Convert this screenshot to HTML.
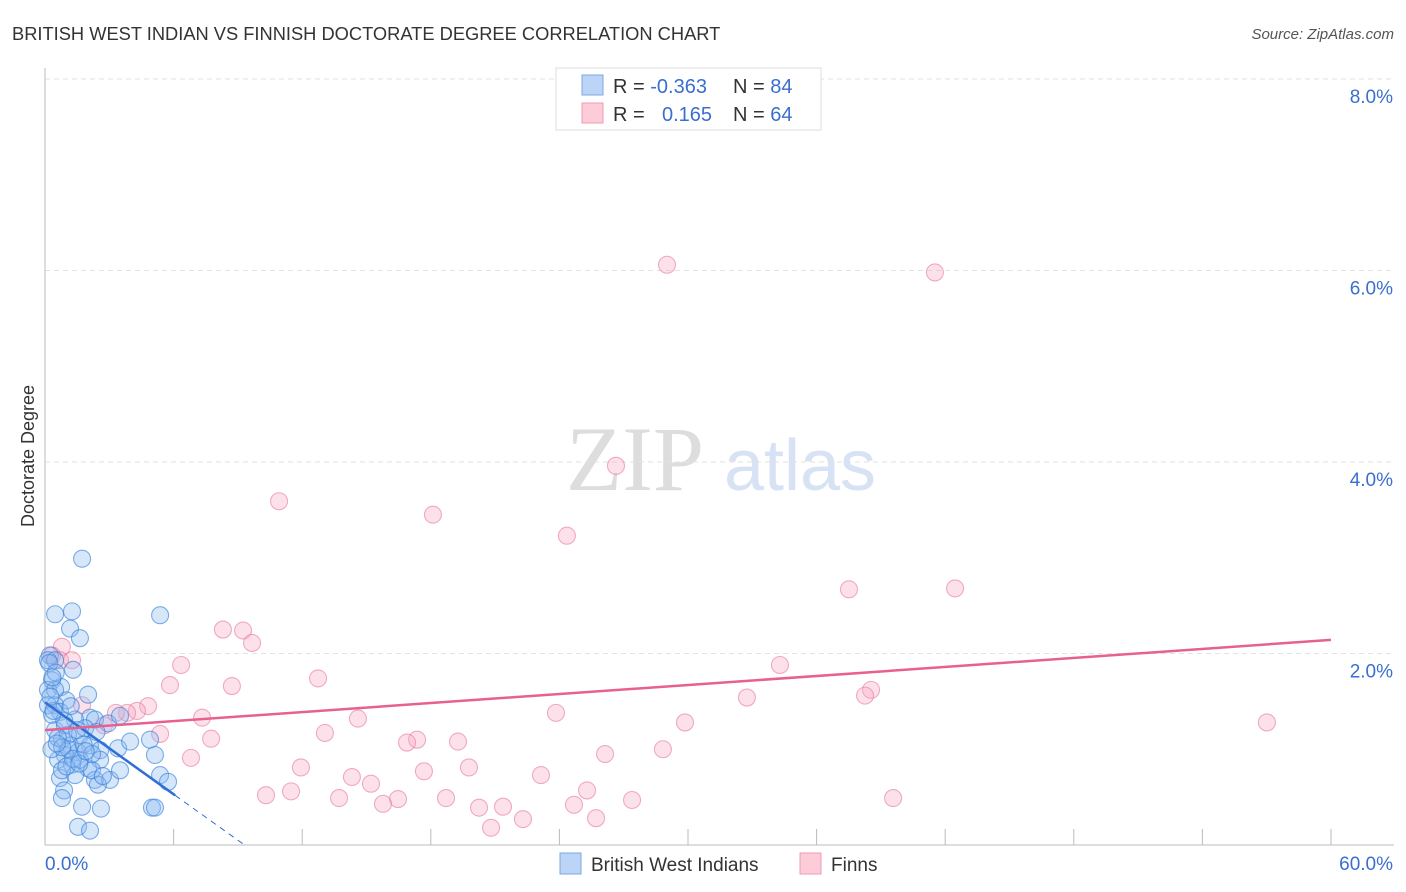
<!DOCTYPE html>
<html><head><meta charset="utf-8"><style>
body{margin:0;background:#fff;font-family:"Liberation Sans",sans-serif;}
svg{display:block}
</style></head><body>
<svg width="1406" height="892" xmlns="http://www.w3.org/2000/svg">
<text x="12" y="40" font-size="18.3" fill="#333">BRITISH WEST INDIAN VS FINNISH DOCTORATE DEGREE CORRELATION CHART</text>
<text x="1394" y="39" font-size="15" fill="#555" font-style="italic" text-anchor="end">Source: ZipAtlas.com</text>
<text x="34" y="456" font-size="18" fill="#333" text-anchor="middle" transform="rotate(-90 34 456)">Doctorate Degree</text>
<g>
<text x="635" y="490" font-size="92" fill="#ddd" font-family="Liberation Serif" text-anchor="middle">ZIP</text>
<text x="800" y="490" font-size="72" fill="#d7e3f4" text-anchor="middle">atlas</text>
</g>
<g id="grid"></g>
<g id="axes"></g>
<g id="pts"></g>
<g id="lines"></g>
<g>
<rect x="556" y="68" width="265" height="62" fill="#fff" stroke="#ddd"/>
<rect x="582" y="75" width="21" height="20" fill="#bcd5f6" stroke="#7aa7e6"/>
<rect x="582" y="103" width="21" height="20" fill="#fcccd9" stroke="#f09ab5"/>
<text x="613" y="93" font-size="20" fill="#333">R = <tspan fill="#3a6fd0">-0.363</tspan></text>
<text x="733" y="93" font-size="20" fill="#333">N = <tspan fill="#3a6fd0">84</tspan></text>
<text x="613" y="121" font-size="20" fill="#333">R = </text>
<text x="662" y="121" font-size="20" fill="#3a6fd0">0.165</text>
<text x="733" y="121" font-size="20" fill="#333">N = <tspan fill="#3a6fd0">64</tspan></text>
</g>
<g>
<rect x="560" y="853" width="21" height="21" fill="#bcd5f6" stroke="#7aa7e6"/>
<text x="591" y="871" font-size="19" fill="#333">British West Indians</text>
<rect x="800" y="853" width="21" height="21" fill="#fcccd9" stroke="#f09ab5"/>
<text x="831" y="871" font-size="19" fill="#333">Finns</text>
</g>
</svg>
<script>
const blueX=[1.73,0.47,1.26,5.37,1.17,1.63,0.23,0.14,0.47,1.31,0.33,0.14,0.75,2.01,1.0,0.47,0.7,2.1,1.4,2.33,2.94,3.5,0.47,0.79,1.17,1.63,2.1,2.57,1.54,0.93,0.61,1.26,2.01,2.57,3.41,3.97,4.9,5.13,0.7,1.4,2.33,3.03,2.47,5.37,5.74,0.89,1.73,2.61,4.99,5.13,1.54,2.1,0.79,0.14,0.33,0.93,1.87,0.79,0.47,1.07,1.63,3.5,2.19,0.2,0.5,1.1,1.5,0.9,0.3,1.8,2.2,0.6,1.3,0.4,1.0,2.4,0.8,1.6,0.25,1.2,0.55,1.9,0.35,2.7];
const blueY=[2.99,2.41,2.44,2.40,2.26,2.16,1.98,1.93,1.93,1.83,1.72,1.62,1.65,1.57,1.51,1.46,1.39,1.33,1.31,1.31,1.27,1.35,1.20,1.10,1.04,1.15,1.04,0.99,0.97,0.94,0.89,0.84,0.80,0.89,1.01,1.08,1.10,0.94,0.70,0.73,0.68,0.68,0.63,0.73,0.66,0.57,0.40,0.38,0.39,0.39,0.19,0.15,0.49,1.46,1.36,1.25,1.22,0.78,1.62,1.15,0.89,0.78,0.78,1.90,1.80,1.00,1.20,1.30,1.00,1.05,0.95,1.12,0.90,1.40,0.82,1.18,1.02,0.85,1.55,1.45,1.06,0.98,1.75,0.72];
const pinkX=[29.02,41.52,26.64,10.92,18.10,24.35,37.51,42.46,8.30,9.24,9.66,6.35,34.29,12.74,5.83,8.72,38.54,38.26,32.75,4.81,4.29,3.83,3.31,23.84,14.60,7.33,57.01,29.86,2.75,5.37,13.06,7.75,19.27,17.36,16.89,28.83,26.13,6.81,19.78,11.94,17.68,14.32,23.14,15.21,25.29,10.31,11.48,13.72,16.47,18.71,27.39,39.57,15.77,24.68,20.25,21.37,22.30,25.71,20.81,0.79,0.70,1.26,0.33,1.73];
const pinkY=[6.06,5.98,3.96,3.59,3.45,3.23,2.67,2.68,2.25,2.24,2.11,1.88,1.88,1.74,1.67,1.66,1.62,1.56,1.54,1.45,1.40,1.38,1.38,1.38,1.32,1.33,1.28,1.28,1.25,1.16,1.17,1.11,1.08,1.10,1.07,1.00,0.95,0.91,0.81,0.81,0.77,0.71,0.73,0.64,0.57,0.52,0.56,0.49,0.48,0.49,0.47,0.49,0.43,0.42,0.39,0.40,0.27,0.28,0.18,2.07,1.93,1.93,1.98,1.46];
const yTicks=[2,4,6,8];
const yTickLabels=["2.0%","4.0%","6.0%","8.0%"];
const xTicks=[6,12,18,24,30,36,42,48,54,60];
const blueFit=[1.49,-0.16];
const pinkFit=[1.20,0.0157];
const NS="http://www.w3.org/2000/svg";
const X=v=>45+v/60*1286, Y=v=>845-v*95.75;
function mk(t,a,p){const e=document.createElementNS(NS,t);for(const k in a)e.setAttribute(k,a[k]);document.getElementById(p).appendChild(e);return e;}
yTicks.forEach((t,i)=>{
 const g=mk('line',{x1:45,x2:1394,y1:Y(t),y2:Y(t),stroke:'#e2e2e2','stroke-dasharray':'5,4'},'grid');
 
 
 const l=mk('text',{x:1393,y:Y(t)+24,'font-size':19,fill:'#3a6fd0','text-anchor':'end'},'axes');
 l.textContent=yTickLabels[i];
 
 
});
const ax=mk('line',{x1:45,x2:45,y1:68,y2:845,stroke:'#bbb'},'axes');


const bx=mk('line',{x1:45,x2:1394,y1:845,y2:845,stroke:'#bbb'},'axes');


xTicks.forEach(t=>{
 const k=mk('line',{x1:X(t),x2:X(t),y1:829,y2:845,stroke:'#bbb'},'axes');
 
 
});
const x0=mk('text',{x:45,y:870,'font-size':19,fill:'#3a6fd0'},'axes');x0.textContent='0.0%';


const x1=mk('text',{x:1393,y:870,'font-size':19,fill:'#3a6fd0','text-anchor':'end'},'axes');x1.textContent='60.0%';


pinkX.forEach((v,i)=>{
 const c=mk('circle',{cx:X(v),cy:Y(pinkY[i]),r:8.5,fill:'rgba(248,170,195,0.35)',stroke:'rgba(232,120,160,0.6)','stroke-width':1.1},'pts');
 
 
});
blueX.forEach((v,i)=>{
 const c=mk('circle',{cx:X(v),cy:Y(blueY[i]),r:8.5,fill:'rgba(140,185,240,0.35)',stroke:'rgba(60,130,220,0.65)','stroke-width':1.1},'pts');
 
 
});
const bl=mk('line',{x1:X(0),y1:Y(blueFit[0]),x2:X(6.07),y2:Y(blueFit[0]+blueFit[1]*6.07),stroke:'#2f6fd6','stroke-width':2.5},'lines');


const xe=-blueFit[0]/blueFit[1];
const bd=mk('line',{x1:X(6.07),y1:Y(blueFit[0]+blueFit[1]*6.07),x2:X(xe),y2:Y(0),stroke:'#2f6fd6','stroke-width':1,'stroke-dasharray':'6,5'},'lines');


const pl=mk('line',{x1:X(0),y1:Y(pinkFit[0]),x2:X(60),y2:Y(pinkFit[0]+pinkFit[1]*60),stroke:'#e8608f','stroke-width':2.5},'lines');


</script>
</body></html>
